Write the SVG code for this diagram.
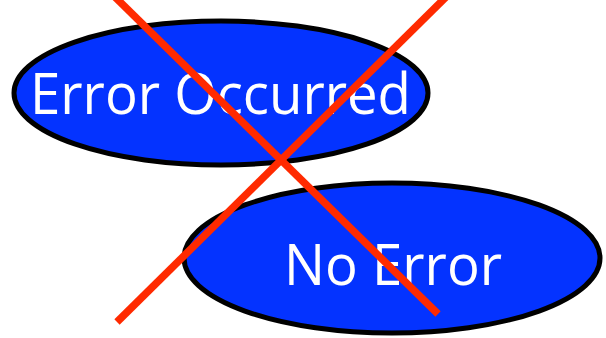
<svg xmlns="http://www.w3.org/2000/svg" width="606" height="338" viewBox="0 0 606 338">
<style>
.node ellipse{fill:#0433ff;stroke:#000;stroke-width:5}
.node text{fill:#fff;font-family:"Open Sans","Noto Sans",sans-serif;font-size:56px}
.cross line{stroke:#ff2a00;stroke-width:7.5}
</style>
<rect width="606" height="338" fill="#fff"/>
<g id="error-occurred" class="node">
<ellipse cx="221" cy="93" rx="207" ry="72"/>
<text x="30" y="114" textLength="381" lengthAdjust="spacingAndGlyphs">Error Occurred</text>
</g>
<g id="no-error" class="node">
<ellipse cx="392" cy="258" rx="208" ry="75"/>
<text x="284" y="285" textLength="218" lengthAdjust="spacingAndGlyphs">No Error</text>
</g>
<g id="connectors" class="cross">
<line x1="115" y1="-3" x2="438" y2="314"/>
<line x1="446" y1="-3" x2="117" y2="322"/>
</g>
</svg>
